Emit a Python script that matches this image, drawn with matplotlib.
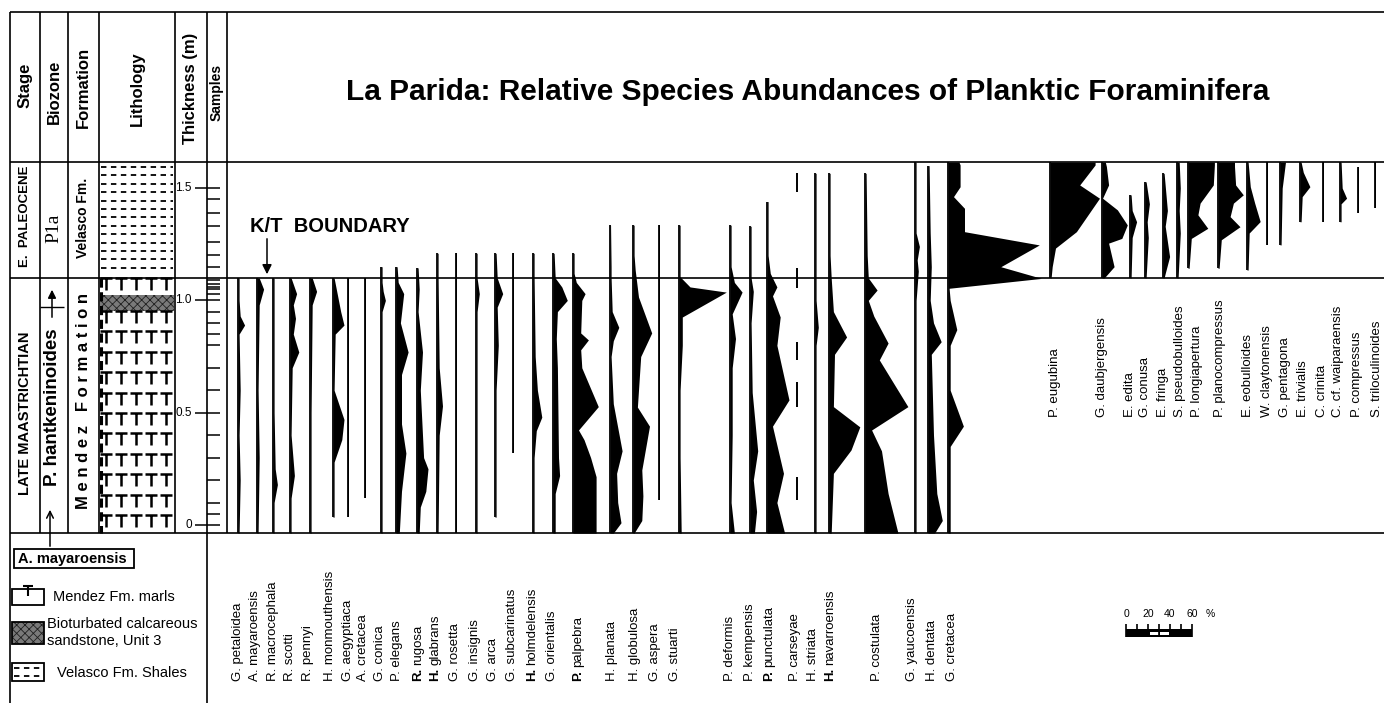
import numpy as np
import matplotlib.pyplot as plt
from matplotlib.path import Path
from matplotlib.patches import Rectangle

plt.rcParams['font.family'] = ['Liberation Sans', 'DejaVu Sans']
plt.rcParams['hatch.linewidth'] = 0.6

W, H = 1384, 703
KT = 1.10          # K/T boundary (m above base)
PX_PER_PCT = 1.1   # page width of 1 % relative abundance

# ---------------- data ----------------
# species in plotting order, left to right
species = [
    "G. petaloidea", "A. mayaroensis", "R. macrocephala", "R. scotti", "R. pennyi",
    "H. monmouthensis", "G. aegyptiaca", "A. cretacea", "G. conica", "P. elegans",
    "R. rugosa", "H. glabrans", "G. rosetta", "G. insignis", "G. arca",
    "G. subcarinatus", "H. holmdelensis", "G. orientalis", "P. palpebra", "H. planata",
    "H. globulosa", "G. aspera", "G. stuarti", "P. deformis", "P. kempensis",
    "P. punctulata", "P. carseyae", "H. striata", "H. navarroensis", "P. costulata",
    "G. yaucoensis", "H. dentata", "G. cretacea",
    "P. eugubina", "G. daubjergensis", "E. edita", "G. conusa", "E. fringa",
    "S. pseudobulloides", "P. longiapertura", "P. planocompressus", "E. eobulloides",
    "W. claytonensis", "G. pentagona", "E. trivialis", "C. crinita",
    "C. cf. waiparaensis", "P. compressus", "S. triloculinoides",
]
paleocene_only = set(species[33:])
bold_genus = {"R. rugosa", "H. glabrans", "H. holmdelensis", "P. palpebra",
              "P. punctulata", "H. navarroensis"}

# (height in m, relative abundance in %)
profile = {
    "G. petaloidea": ([1.10, 1.0, 0.93, 0.89, 0.85, 0.6, 0.4, 0.2, -0.036], [1, 1, 2, 6, 1, 2, 1, 2, 1]),
    "A. mayaroensis": ([1.10, 1.05, 0.98, 0.6, 0.3, -0.036], [2, 6, 2, 1, 2, 1]),
    "R. macrocephala": ([1.10, 0.5, 0.25, 0.18, 0.1, -0.036], [1, 1, 2, 4, 1, 1]),
    "R. scotti": ([1.10, 1.03, 0.98, 0.92, 0.85, 0.77, 0.7, 0.4, 0.22, 0.12, -0.036],
                  [1, 6, 3, 5, 3, 8, 2, 1, 4, 1, 1]),
    "R. pennyi": ([1.10, 1.04, 0.98, 0.5, -0.036], [2, 6, 2, 1, 1]),
    "H. monmouthensis": ([1.10, 1.05, 0.95, 0.89, 0.85, 0.6, 0.47, 0.38, 0.28, 0.035],
                         [1, 3, 7, 10, 2, 1, 10, 8, 1, 1]),
    "G. aegyptiaca": ([1.10, 0.035], [1, 1]),
    "A. cretacea": ([1.10, 0.12], [1, 1]),
    "G. conica": ([1.15, 1.08, 1.04, 1.0, 0.95, -0.036], [1, 1, 2, 4, 1, 1]),
    "P. elegans": ([1.15, 1.08, 1.03, 0.9, 0.77, 0.67, 0.45, 0.32, 0.15, -0.036],
                   [1, 2, 7, 4, 11, 5, 5, 9, 5, 3]),
    "R. rugosa": ([1.145, 1.05, 0.95, 0.77, 0.6, 0.3, 0.25, 0.15, 0.08, -0.036],
                  [1, 2, 1, 5, 3, 6, 10, 8, 3, 2]),
    "H. glabrans": ([1.21, 1.1, 0.7, 0.53, 0.4, -0.036], [1, 1, 2, 5, 2, 1]),
    "G. rosetta": ([1.21, -0.036], [1, 1]),
    "G. insignis": ([1.21, 1.1, 1.03, 0.95, -0.036], [1, 1, 3, 1, 1]),
    "G. arca": ([1.21, 1.1, 1.03, 0.97, 0.8, 0.6, 0.035], [1, 2, 7, 2, 3, 1, 1]),
    "G. subcarinatus": ([1.21, 0.32], [1, 1]),
    "H. holmdelensis": ([1.21, 1.1, 0.75, 0.6, 0.48, 0.42, 0.3, -0.036], [1, 1, 2, 4, 8, 3, 1, 1]),
    "G. orientalis": ([1.21, 1.1, 1.06, 1.0, 0.95, 0.83, 0.7, 0.3, 0.22, 0.14, -0.036],
                      [1, 2, 8, 13, 4, 3, 4, 5, 6, 2, 2]),
    "P. palpebra": ([1.21, 1.12, 1.08, 1.03, 1.0, 0.855, 0.824, 0.78, 0.70, 0.527, 0.423, 0.38, 0.3, 0.215, -0.036],
                    [1, 1, 3, 11, 8, 7, 14, 7, 8, 23, 5, 10, 16, 21, 21]),
    "H. planata": ([1.335, 1.15, 1.1, 0.95, 0.88, 0.82, 0.75, 0.54, 0.33, 0.23, 0.1, 0.01, -0.036],
                   [0.5, 1, 1, 2, 8, 3, 1, 3, 11, 6, 7, 10, 3]),
    "H. globulosa": ([1.335, 1.2, 1.135, 1.015, 0.855, 0.75, 0.525, 0.44, 0.245, 0.13, 0.02, -0.036],
                     [1, 1, 2, 5, 17, 7, 4, 15, 8, 9, 8, 1]),
    "G. aspera": ([1.335, 0.11], [1, 1]),
    "G. stuarti": ([1.335, 1.12, 1.105, 1.06, 1.037, 0.926, 0.8, 0.6, 0.3, -0.036],
                   [1, 1, 1, 10, 43, 3, 3, 1, 1, 2]),
    "P. deformis": ([1.335, 1.15, 1.08, 1.037, 0.94, 0.83, 0.7, 0.4, 0.1, -0.036],
                    [1, 1, 4, 11, 2, 5, 2, 2, 1, 4]),
    "P. kempensis": ([1.33, 1.1, 1.04, 0.9, 0.59, 0.33, 0.2, 0.06, -0.036], [1, 1, 3, 1, 2, 7, 3, 6, 4]),
    "P. punctulata": ([1.44, 1.2, 1.12, 1.06, 1.02, 0.926, 0.8, 0.557, 0.44, 0.23, 0.1, -0.036],
                      [1, 1, 3, 9, 5, 12, 9, 20, 5, 15, 9, 16]),
    "H. striata": ([1.566, 1.0, 0.88, 0.8, -0.036], [1, 1, 3, 1, 1]),
    "H. navarroensis": ([1.566, 1.2, 1.1, 0.95, 0.837, 0.76, 0.527, 0.437, 0.334, 0.23, -0.036],
                        [1, 1, 2, 4, 16, 5, 4, 28, 20, 4, 2]),
    "P. costulata": ([1.566, 1.2, 1.1, 1.046, 1.0, 0.93, 0.81, 0.735, 0.527, 0.423, 0.33, 0.14, -0.036],
                     [1, 2, 3, 11, 3, 8, 21, 13, 39, 6, 15, 21, 30]),
    "G. yaucoensis": ([1.616, 1.3, 1.24, 1.18, 1.13, 1.0, -0.036], [1, 1, 4, 2, 3, 1, 1]),
    "H. dentata": ([1.6, 1.3, 1.15, 1.0, 0.9, 0.816, 0.76, 0.4, 0.14, 0.02, -0.036],
                   [1, 2, 3, 2, 5, 12, 3, 5, 8, 13, 6]),
    "G. cretacea": ([1.616, 1.603, 1.506, 1.462, 1.41, 1.306, 1.247, 1.15, 1.098, 1.054, 1.0,
                     0.87, 0.8, 0.6, 0.44, 0.35, 0.1, -0.036],
                    [10, 11, 11, 5, 15, 15, 83, 48, 85, 1, 2, 8, 2, 2, 14, 2, 2, 2]),
    "P. eugubina": ([1.616, 1.603, 1.514, 1.455, 1.306, 1.233, 1.15, 1.10], [41, 41, 27, 45, 24, 5, 2, 1]),
    "G. daubjergensis": ([1.616, 1.596, 1.514, 1.455, 1.403, 1.336, 1.276, 1.255, 1.15, 1.10],
                         [3, 4, 6, 0.5, 14, 23, 18, 6, 11, 2]),
    "E. edita": ([1.47, 1.4, 1.35, 1.28, 1.10], [1, 2, 6, 2, 1]),
    "G. conusa": ([1.528, 1.43, 1.35, 1.28, 1.10], [1, 4, 2, 3, 1]),
    "E. fringa": ([1.566, 1.4, 1.33, 1.195, 1.12, 1.10], [1, 4, 2, 6, 2, 1]),
    "S. pseudobulloides": ([1.616, 1.5, 1.4, 1.3, 1.10], [2, 3, 2, 3, 1]),
    "P. longiapertura": ([1.616, 1.603, 1.514, 1.433, 1.381, 1.321, 1.276, 1.143],
                         [24, 24, 23, 11, 9, 18, 3, 1]),
    "P. planocompressus": ([1.616, 1.596, 1.514, 1.47, 1.433, 1.373, 1.328, 1.27, 1.143],
                           [15, 15, 16, 23, 14, 11, 20, 3, 1]),
    "E. eobulloides": ([1.616, 1.506, 1.433, 1.351, 1.3, 1.135], [1, 3, 7, 12, 2, 1]),
    "W. claytonensis": ([1.616, 1.247], [1, 1]),
    "G. pentagona": ([1.616, 1.5, 1.247], [5, 2, 1]),
    "E. trivialis": ([1.616, 1.57, 1.506, 1.462, 1.35], [1, 3, 9, 2, 1]),
    "C. crinita": ([1.616, 1.35], [1, 1]),
    "C. cf. waiparaensis": ([1.616, 1.5, 1.455, 1.43, 1.35], [1, 2, 6, 1, 1]),
    "P. compressus": ([1.596, 1.39], [1, 1]),
    "S. triloculinoides": ([1.616, 1.41], [1, 1]),
}
# P. carseyae only occurs sporadically (dashed range)
carseyae_ranges = [(1.566, 1.484), (1.143, 1.054), (0.816, 0.735), (0.638, 0.527), (0.215, 0.111)]

# sampled levels (m) and labelled thickness ticks
sample_levels = [0, 0.05, 0.1, 0.2, 0.3, 0.4, 0.5, 0.6, 0.7, 0.8, 0.85, 0.9, 0.95, 1.0,
                 1.03, 1.05, 1.06, 1.075, 1.09, 1.15, 1.2, 1.26, 1.33, 1.39, 1.45, 1.5]
thick_ticks = [0, 0.5, 1.0, 1.5]
thick_labels = ["0", "0.5", "1.0", "1.5"]
scale_pcts = [0, 20, 40, 60]

# ---------------- layout (page pixels) ----------------
col_x = [238, 257, 273, 290, 310, 333, 348, 365, 381, 396, 417, 437, 456, 476, 495, 513, 533,
         553, 573, 610, 633, 659, 679, 730, 750, 767, 797, 815, 829, 865, 915, 928, 948,
         1050, 1102, 1130, 1145, 1163, 1177, 1188, 1218, 1247, 1267, 1280, 1300, 1323, 1340,
         1358, 1375]
label_x = [238, 255, 273, 290, 308, 330, 348, 363, 380, 397, 418, 435, 455, 475, 493, 512, 532,
           552, 578, 612, 635, 655, 675, 730, 750, 769, 795, 813, 830, 877, 912, 932, 952,
           1055, 1102, 1130, 1145, 1163, 1180, 1197, 1220, 1248, 1267, 1285, 1303, 1322, 1338,
           1357, 1377]
Y_TOP, Y_KT, Y_BOT = 162, 278, 533


def px_to_m(y):
    return (525 - y) / 224.6


fig = plt.figure(figsize=(W / 100, H / 100), dpi=100)
ax = fig.add_axes([0, 0, 1, 1])
ax.set_xlim(0, W)
ax.set_ylim(H, 0)
ax.axis('off')

dax = fig.add_axes([0, (H - Y_BOT) / H, 1, (Y_BOT - Y_TOP) / H])
dax.set_xlim(0, W)
dax.set_ylim(px_to_m(Y_BOT), px_to_m(Y_TOP))
dax.axis('off')

# ---------------- frame ----------------
k = dict(color='k', lw=1.2)
ax.hlines([12, Y_TOP, Y_BOT], 10, W, **k)
dax.hlines(KT, 10, W, **k)
ax.vlines(10, 12, H, **k)
ax.vlines([40, 68, 99, 175, 227], 12, Y_BOT, **k)
ax.vlines(207, 12, H, **k)

# header
hdr = dict(rotation=90, ha='center', va='center', fontweight='bold')
ax.text(25, 85, "Stage", fontsize=12, **hdr)
ax.text(54, 92, "Biozone", fontsize=12, **hdr)
ax.text(83, 87, "Formation", fontsize=12, **hdr)
ax.text(137, 89, "Lithology", fontsize=12, **hdr)
ax.text(191, 88, "Thickness (m)", fontsize=12, **hdr)
ax.text(217, 92, "Samples", fontsize=10, **hdr)
ax.text(808, 92, "La Parida: Relative Species Abundances of Planktic Foraminifera",
        fontsize=21.5, fontweight='bold', ha='center', va='center')

# stage / biozone / formation columns
ax.text(25, 216, "E.  PALEOCENE", fontsize=9.5, **hdr)
ax.text(25, 413, "LATE MAASTRICHTIAN", fontsize=10.5, **hdr)
ax.text(54, 228, "P1a", fontsize=14, rotation=90, ha='center', va='center',
        family=['Liberation Serif', 'DejaVu Serif'])
ax.text(53, 407, "P. hantkeninoides", fontsize=13.5, **hdr)
ax.annotate('', xy=(52, 287), xytext=(52, 320),
            arrowprops=dict(arrowstyle='-|>', color='k', lw=1.1, mutation_scale=12))
ax.hlines(307, 40, 64, color='k', lw=1.0)
ax.text(83, 218, "Velasco Fm.", fontsize=10, **hdr)
ax.text(83, 401, "M e n d e z   F o r m a t i o n", fontsize=12, **hdr)

# lithology: Velasco shales (dashes)
for y in np.arange(167, 276, 8.4):
    ax.hlines(y, 101, 173, color='k', lw=1.3, linestyles=(0, (3, 2.5)))
# Mendez marls (T pattern)
T_MARK = Path([(-1, 1), (1, 1), (0, 1), (0, -1)],
              [Path.MOVETO, Path.LINETO, Path.MOVETO, Path.LINETO])
marl_rows = [284] + list(np.arange(317, 522, 20.4))
for y in marl_rows:
    ax.plot([106, 121, 136, 151, 166], [y] * 5, ls='none', marker=T_MARK, ms=9,
            mec='k', mfc='none', mew=1.8)
ax.vlines(100.5, Y_KT, Y_BOT, color='k', lw=2.2, linestyles=(0, (3, 1.5)))
ax.add_patch(Rectangle((100, 295), 74, 16, facecolor='#7a7a7a', edgecolor='#202020',
                       hatch='xxxx', lw=0))

# thickness scale and samples
for t, lab in zip(thick_ticks, thick_labels):
    dax.hlines(t, 195, 207, color='k', lw=1.1)
    dax.text(192, t, lab, fontsize=8.5, ha='right', va='center')
dax.hlines(sample_levels, 207, 220, color='k', lw=1.1)

# ---------------- abundance profiles ----------------
for name, x0 in zip(species, col_x):
    if name == "P. carseyae":
        for top, bot in carseyae_ranges:
            dax.vlines(x0, bot, top, color='k', lw=1.4)
        continue
    h, v = profile[name]
    h = np.array(h)
    w = np.array(v) * PX_PER_PCT
    dax.fill_betweenx(h, x0, x0 + w, color='k', lw=0)
    dax.vlines(x0, h.min(), h.max(), color='k', lw=1.3)

# K/T label
ax.text(250, 227, "K/T  BOUNDARY", fontsize=14.5, fontweight='bold', ha='left', va='center')
ax.annotate('', xy=(267, Y_KT - 1), xytext=(267, 236),
            arrowprops=dict(arrowstyle='-|>', color='k', lw=1.1, mutation_scale=14))

# species labels (some with bold genus initial)
renderer = fig.canvas.get_renderer()
lab = dict(fontsize=9.5, rotation=90, ha='center', va='bottom')
for name, lx in zip(species, label_x):
    ybase = 417 if name in paleocene_only else 681
    if name in bold_genus:
        g, rest = name.split(' ', 1)
        tb = ax.text(lx, ybase, g, fontweight='bold', **lab)
        gh = tb.get_window_extent(renderer=renderer).height
        ax.text(lx, ybase - gh - 3, rest, **lab)
    else:
        ax.text(lx, ybase, name, **lab)

# ---------------- legend ----------------
ax.add_patch(Rectangle((14, 549), 120, 19, facecolor='white', edgecolor='k', lw=1.3))
ax.text(18, 558.5, "A. mayaroensis", fontsize=10.5, fontweight='bold', va='center')
ax.annotate('', xy=(50, 507), xytext=(50, 549),
            arrowprops=dict(arrowstyle='->', color='k', lw=1.1, mutation_scale=12))

ax.add_patch(Rectangle((12, 589), 32, 16, facecolor='white', edgecolor='k', lw=1.3))
ax.plot([28], [591], ls='none', marker=T_MARK, ms=7, mec='k', mfc='none', mew=1.5)
ax.text(53, 597, "Mendez Fm. marls", fontsize=10.5, va='center')

ax.add_patch(Rectangle((12, 622), 32, 22, facecolor='#7a7a7a', edgecolor='#202020',
                       hatch='xxxx', lw=0))
ax.add_patch(Rectangle((12, 622), 32, 22, facecolor='none', edgecolor='k', lw=1.3))
ax.text(47, 624, "Bioturbated calcareous", fontsize=10.5, va='center')
ax.text(47, 641, "sandstone, Unit 3", fontsize=10.5, va='center')

ax.add_patch(Rectangle((12, 663), 32, 18, facecolor='white', edgecolor='k', lw=1.3))
ax.hlines([668, 676], 14, 42, color='k', lw=1.3, linestyles=(0, (3, 2.5)))
ax.text(57, 673, "Velasco Fm. Shales", fontsize=10.5, va='center')

# scale bar (0-60 %)
sx = 1126
for p in scale_pcts:
    ax.text(sx + p * PX_PER_PCT, 619, str(p), fontsize=7.5, ha='center', va='bottom')
ax.text(sx + 60 * PX_PER_PCT + 14, 619, "%", fontsize=7.5, ha='left', va='bottom')
ax.add_patch(Rectangle((sx, 629), 60 * PX_PER_PCT, 8, facecolor='k', lw=0))
ax.add_patch(Rectangle((sx + 22 * PX_PER_PCT, 631.5), 8 * PX_PER_PCT, 3, facecolor='white', lw=0))
ax.add_patch(Rectangle((sx + 31 * PX_PER_PCT, 631.5), 8 * PX_PER_PCT, 3, facecolor='white', lw=0))
ax.vlines([sx + p * PX_PER_PCT for p in range(0, 61, 10)], 624, 637, color='k', lw=1.2)

fig.savefig("out.png", dpi=100)
